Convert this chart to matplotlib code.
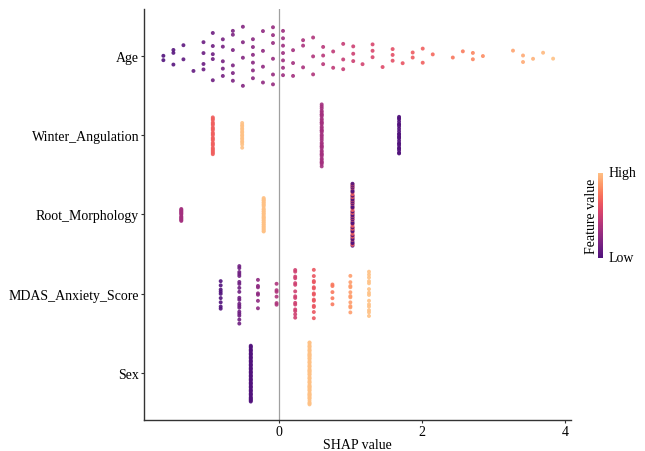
import numpy as np
import matplotlib
matplotlib.use("Agg")
import matplotlib.pyplot as plt
from matplotlib.colors import ListedColormap

plt.rcParams['font.family'] = ['Liberation Serif', 'DejaVu Serif']

# rows from top to bottom
features = ["Age", "Winter_Angulation", "Root_Morphology", "MDAS_Anxiety_Score", "Sex"]

# Age: one column per age, SHAP value and number of patients
age_shap = [-1.61, -1.47, -1.33, -1.19, -1.05, -0.92, -0.78, -0.64, -0.50, -0.36,
            -0.22, -0.08, 0.06, 0.20, 0.34, 0.48, 0.62, 0.76, 0.90, 1.04,
            1.17, 1.31, 1.45, 1.59, 1.73, 1.87, 2.01, 2.15, 2.43, 2.57,
            2.71, 2.85, 3.27, 3.41, 3.55, 3.69, 3.83]
age_count = [2, 3, 2, 1, 4, 5, 5, 6, 4, 6, 4, 6, 7, 3, 3, 3, 3, 2, 3, 3,
             1, 3, 1, 3, 1, 2, 2, 1, 1, 1, 2, 1, 1, 2, 1, 1, 1]
age_years = [20, 21, 22, 23, 24, 25, 26, 27, 28, 29, 30, 31, 32, 33, 34, 35, 36, 37,
             38, 39, 40, 41, 42, 43, 44, 45, 46, 47, 49, 50, 51, 52, 55, 56, 57, 58, 59]

# categorical / discrete features: SHAP value, feature code, count
winter_shap = [-0.92, -0.51, 0.60, 1.68]
winter_code = [2, 3, 1, 0]
winter_count = [24, 15, 38, 23]

root_shap = [-1.36, -0.21, 1.03, 1.03]
root_code = [1, 3, 0, 2]
root_count = [13, 31, 28, 28]

mdas_shap = [-0.81, -0.55, -0.29, -0.03, 0.23, 0.49, 0.75, 1.00, 1.26]
mdas_score = [0, 1, 2, 3, 4, 5, 6, 7, 8]
mdas_count = [9, 19, 7, 6, 15, 14, 5, 11, 14]

sex_shap = [-0.39, 0.43]
sex_code = [0, 1]
sex_count = [48, 52]


def expand(shap, value, count):
    return np.repeat(shap, count).astype(float), np.repeat(value, count).astype(float)


def halton(n, b=2):
    out = np.zeros(n)
    for i in range(n):
        f, r, k = 1.0, 0.0, i + 1
        while k > 0:
            f /= b
            r += f * (k % b)
            k //= b
        out[i] = r
    return out


def bee_offsets(x, width=0.4, adjust=0.5):
    # quasirandom offsets scaled by kernel density, like the beeswarm in shapviz
    n = len(x)
    sd = np.std(x, ddof=1)
    iqr = np.subtract(*np.percentile(x, [75, 25]))
    bw = 0.9 * min(sd, iqr / 1.34 if iqr > 0 else sd) * n ** -0.2 * adjust
    grid = np.linspace(x.min() - 3 * bw, x.max() + 3 * bw, 512)
    dens = np.exp(-0.5 * ((grid[:, None] - x[None, :]) / bw) ** 2).sum(axis=1)
    dens = dens / dens.max()
    d = np.interp(x, grid, dens)
    rank = np.argsort(np.argsort(x, kind="stable"), kind="stable")
    shift = halton(n)[rank] - 0.5
    return 2 * shift * d * width


rows = [
    expand(age_shap, age_years, age_count),
    expand(winter_shap, winter_code, winter_count),
    expand(root_shap, root_code, root_count),
    expand(mdas_shap, mdas_score, mdas_count),
    expand(sex_shap, sex_code, sex_count),
]

cmap = ListedColormap(plt.get_cmap("magma")(np.linspace(0.25, 0.87, 256)))

fig = plt.figure(figsize=(6.45, 4.52), dpi=100)
ax = fig.add_axes([0.2233, 0.0686, 0.662, 0.9093])

ax.axvline(0, color="#a0a0a0", lw=0.9, zorder=0)

nrow = len(features)
for i, (x, v) in enumerate(rows):
    ypos = nrow - i
    y = ypos + bee_offsets(x)
    c = (v - v.min()) / (v.max() - v.min())
    draw = np.argsort(y)  # draw bottom to top so tied groups mix
    ax.scatter(x[draw], y[draw], c=c[draw], cmap=cmap, vmin=0, vmax=1, s=8,
               linewidths=0, edgecolors="none", alpha=0.9, zorder=2)

ax.set_xlim(-1.88, 4.08)
ax.set_ylim(0.41, nrow + 0.59)
ax.set_yticks(range(nrow, 0, -1))
ax.set_yticklabels(features)
ax.set_xticks([0, 2, 4])
ax.set_xlabel("SHAP value", fontsize=10, labelpad=0)

for side in ["top", "right"]:
    ax.spines[side].set_visible(False)
for side in ["left", "bottom"]:
    ax.spines[side].set_color("#333333")
    ax.spines[side].set_linewidth(1.0)
ax.tick_params(axis="both", colors="#333333", length=2.5, width=0.8, labelsize=10,
               labelcolor="black", pad=1)
ax.tick_params(axis="x", pad=1)

# colour bar
cax = fig.add_axes([0.9275, 0.428, 0.0078, 0.188])
cb = matplotlib.colorbar.ColorbarBase(cax, cmap=cmap, orientation="vertical")
cb.outline.set_visible(False)
cb.set_ticks([])
cax.text(2.0, 1.0, "High", transform=cax.transAxes, ha="left", va="center", fontsize=10)
cax.text(2.0, 0.0, "Low", transform=cax.transAxes, ha="left", va="center", fontsize=10)
cax.text(0.0, 0.5, "Feature value", transform=cax.transAxes, ha="right", va="center",
         rotation=90, fontsize=10)

fig.savefig("out.png", dpi=100)
